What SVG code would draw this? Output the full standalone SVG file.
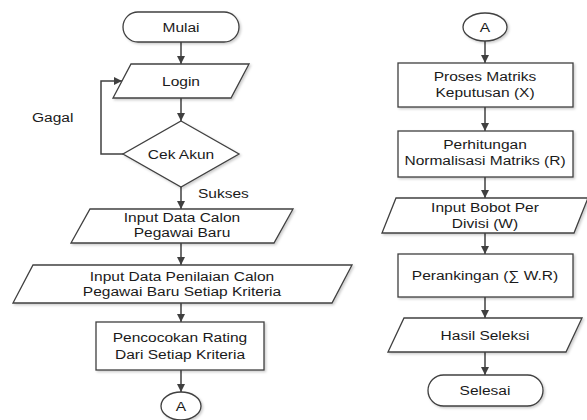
<svg xmlns="http://www.w3.org/2000/svg" width="587" height="420" viewBox="0 0 587 420">
<style>
.s{fill:#fff;stroke:#404040;stroke-width:1.3;filter:url(#sh)}
.t{font-family:"Liberation Sans",Arial,sans-serif;font-size:13.5px;fill:#1a1a1a;text-anchor:middle}
.l{font-family:"Liberation Sans",Arial,sans-serif;font-size:13.5px;fill:#1a1a1a}
.c{fill:none;stroke:#404040;stroke-width:1.5;marker-end:url(#ah)}
</style>
<defs>
<marker id="ah" viewBox="0 0 10 10" refX="10" refY="5" markerWidth="8" markerHeight="8" markerUnits="userSpaceOnUse" orient="auto">
<path d="M0,0 L10,5 L0,10 Z" fill="#404040"/>
</marker>
<filter id="sh" x="-10%" y="-10%" width="130%" height="140%">
<feDropShadow dx="1.5" dy="1.5" stdDeviation="0.8" flood-color="#000" flood-opacity="0.2"/>
</filter>
</defs>
<rect width="587" height="420" fill="#fff"/>
<g id="connectors">
<line class="c" x1="181" y1="42" x2="181" y2="64"/>
<line class="c" x1="181" y1="98" x2="181" y2="121"/>
<polyline class="c" points="123,154 101,154 101,81 122,81"/>
<line class="c" x1="181" y1="187" x2="181" y2="209"/>
<line class="c" x1="181" y1="243" x2="181" y2="265"/>
<line class="c" x1="181" y1="303" x2="181" y2="322"/>
<line class="c" x1="181" y1="370" x2="181" y2="392"/>
<line class="c" x1="485" y1="41" x2="485" y2="63"/>
<line class="c" x1="485" y1="107" x2="485" y2="131"/>
<line class="c" x1="485" y1="177" x2="485" y2="198"/>
<line class="c" x1="485" y1="233" x2="485" y2="254"/>
<line class="c" x1="485" y1="297" x2="485" y2="318"/>
<line class="c" x1="485" y1="352" x2="485" y2="375"/>
<text class="l" transform="translate(32,122) scale(1.15,1)">Gagal</text>
<text class="l" transform="translate(198,198) scale(1.15,1)">Sukses</text>
</g>
<g id="mulai">
<rect class="s" x="123" y="12" width="116" height="30" rx="15"/>
<text class="t" transform="translate(181,32) scale(1.15,1)">Mulai</text>
</g>
<g id="login">
<polygon class="s" points="131,64 249,64 231,98 113,98"/>
<text class="t" transform="translate(181,86) scale(1.15,1)">Login</text>
</g>
<g id="cek-akun">
<polygon class="s" points="181,121 239,154 181,187 123,154"/>
<text class="t" transform="translate(181,159) scale(1.15,1)">Cek Akun</text>
</g>
<g id="input-data-calon">
<polygon class="s" points="90,209 293,209 274,243 71,243"/>
<text class="t" transform="translate(182,222) scale(1.15,1)">Input Data Calon</text>
<text class="t" transform="translate(182,237) scale(1.15,1)">Pegawai Baru</text>
</g>
<g id="input-penilaian">
<polygon class="s" points="33,265 352,265 332,303 13,303"/>
<text class="t" transform="translate(182,281) scale(1.15,1)">Input Data Penilaian Calon</text>
<text class="t" transform="translate(182,296) scale(1.15,1)">Pegawai Baru Setiap Kriteria</text>
</g>
<g id="pencocokan">
<rect class="s" x="96" y="322" width="168" height="48"/>
<text class="t" transform="translate(180,342) scale(1.15,1)">Pencocokan Rating</text>
<text class="t" transform="translate(180,359) scale(1.15,1)">Dari Setiap Kriteria</text>
</g>
<g id="a-out">
<ellipse class="s" cx="181" cy="406" rx="20" ry="14"/>
<text class="t" transform="translate(181,411) scale(1.15,1)">A</text>
</g>
<g id="a-in">
<ellipse class="s" cx="485" cy="27" rx="22" ry="14"/>
<text class="t" transform="translate(485,32) scale(1.15,1)">A</text>
</g>
<g id="proses-matriks">
<rect class="s" x="398" y="63" width="175" height="44"/>
<text class="t" transform="translate(485,81) scale(1.15,1)">Proses Matriks</text>
<text class="t" transform="translate(485,97) scale(1.15,1)">Keputusan (X)</text>
</g>
<g id="normalisasi">
<rect class="s" x="398" y="131" width="175" height="46"/>
<text class="t" transform="translate(485,149) scale(1.15,1)">Perhitungan</text>
<text class="t" transform="translate(485,165) scale(1.15,1)">Normalisasi Matriks (R)</text>
</g>
<g id="input-bobot">
<polygon class="s" points="396,198 588,198 574,233 382,233"/>
<text class="t" transform="translate(485,212) scale(1.15,1)">Input Bobot Per</text>
<text class="t" transform="translate(485,228) scale(1.15,1)">Divisi (W)</text>
</g>
<g id="perankingan">
<rect class="s" x="398" y="254" width="175" height="43"/>
<text class="t" transform="translate(485,280) scale(1.15,1)">Perankingan (∑ W.R)</text>
</g>
<g id="hasil-seleksi">
<polygon class="s" points="404,318 582,318 566,352 388,352"/>
<text class="t" transform="translate(485,340) scale(1.15,1)">Hasil Seleksi</text>
</g>
<g id="selesai">
<rect class="s" x="428" y="375" width="115" height="31" rx="15.5"/>
<text class="t" transform="translate(485,395) scale(1.15,1)">Selesai</text>
</g>
</svg>
